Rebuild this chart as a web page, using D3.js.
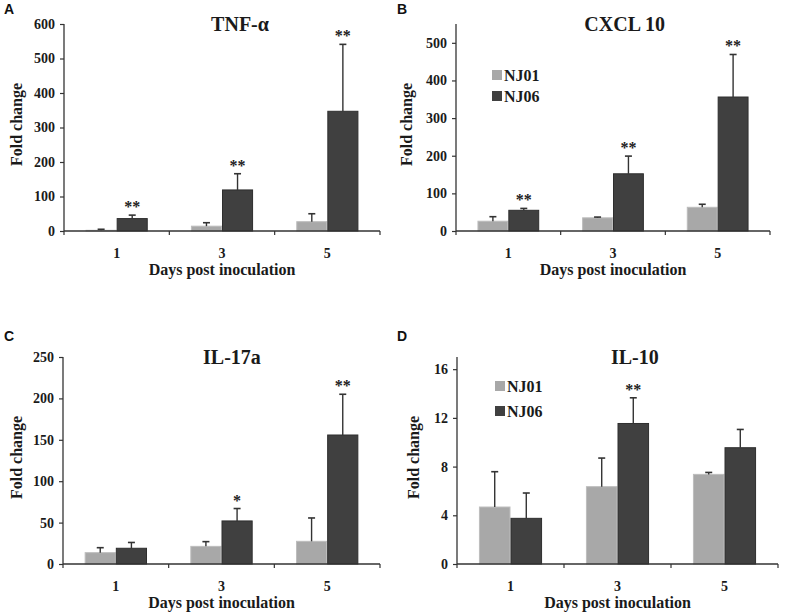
<!DOCTYPE html>
<html>
<head>
<meta charset="utf-8">
<script src="https://cdn.jsdelivr.net/npm/d3@7"></script>
<style>
  body { margin: 0; background: #fff; }
  svg { display: block; }
  .tick text { font-family: 'Liberation Serif', 'Times New Roman', serif !important; font-weight: bold; }
</style>
</head>
<body>
<svg id="chart" width="787" height="614"></svg>
<script>
// ---------- DATA ----------
const days = ["1", "3", "5"];
const seriesNames = ["NJ01", "NJ06"];

const tnfNJ01 = [2, 14, 27];
const tnfNJ01Err = [3, 10, 23];
const tnfNJ06 = [36, 119, 347];
const tnfNJ06Err = [10, 47, 194];
const tnfSig = ["**", "**", "**"];
const tnfTicks = [0, 100, 200, 300, 400, 500, 600];

const cxclNJ01 = [26, 35, 63];
const cxclNJ01Err = [12, 2, 8];
const cxclNJ06 = [55, 152, 356];
const cxclNJ06Err = [5, 47, 113];
const cxclSig = ["**", "**", "**"];
const cxclTicks = [0, 100, 200, 300, 400, 500];

const il17NJ01 = [13.7, 21.3, 27.4];
const il17NJ01Err = [6, 5.7, 28.2];
const il17NJ06 = [19, 52, 155.8];
const il17NJ06Err = [7, 15, 49.2];
const il17Sig = ["", "*", "**"];
const il17Ticks = [0, 50, 100, 150, 200, 250];

const il10NJ01 = [4.68, 6.35, 7.36];
const il10NJ01Err = [2.9, 2.35, 0.16];
const il10NJ06 = [3.75, 11.54, 9.55];
const il10NJ06Err = [2.08, 2.11, 1.5];
const il10Sig = ["", "**", ""];
const il10Ticks = [0, 4, 8, 12, 16];

// ---------- STYLE / LAYOUT ----------
const colors = ["#a8a8a8", "#404040"];
const strokes = ["#bdbdbd", "#2e2e2e"];
const serif = "'Liberation Serif', 'Times New Roman', serif";
const sans = "'Liberation Sans', Arial, sans-serif";

const panels = [
  { letter: "A", title: "TNF-α", left: 64, right: 380, top: 24, bottom: 231, max: 600,
    ticks: tnfTicks, a: tnfNJ01, ae: tnfNJ01Err, b: tnfNJ06, be: tnfNJ06Err, sig: tnfSig,
    legend: false, lx: 4, ly: 14, ylabOff: 42, titleFrac: 0.557 },
  { letter: "B", title: "CXCL 10", left: 456, right: 770, top: 24, bottom: 231, max: 550,
    ticks: cxclTicks, a: cxclNJ01, ae: cxclNJ01Err, b: cxclNJ06, be: cxclNJ06Err, sig: cxclSig,
    legend: true, legX: 36, legY: [51, 72], lx: 397, ly: 14, ylabOff: 44, titleFrac: 0.537 },
  { letter: "C", title: "IL-17a", left: 63, right: 380, top: 357, bottom: 564, max: 250,
    ticks: il17Ticks, a: il17NJ01, ae: il17NJ01Err, b: il17NJ06, be: il17NJ06Err, sig: il17Sig,
    legend: false, lx: 4, ly: 341, ylabOff: 41, titleFrac: 0.533 },
  { letter: "D", title: "IL-10", left: 457, right: 778, top: 357, bottom: 564, max: 17,
    ticks: il10Ticks, a: il10NJ01, ae: il10NJ01Err, b: il10NJ06, be: il10NJ06Err, sig: il10Sig,
    legend: true, legX: 38, legY: [29, 54], lx: 397, ly: 341, ylabOff: 38, titleFrac: 0.554 }
];

const svg = d3.select("#chart");

panels.forEach(p => {
  const g = svg.append("g");

  const y = d3.scaleLinear().domain([0, p.max]).range([p.bottom, p.top]);
  const x = d3.scaleBand().domain(days).range([p.left, p.right])
    .paddingInner(0.41).paddingOuter(0.205);
  const xs = d3.scaleBand().domain(seriesNames).range([0, x.bandwidth()]).padding(0);

  // Panel letter
  g.append("text").attr("x", p.lx).attr("y", p.ly)
    .attr("font-family", sans).attr("font-weight", "bold").attr("font-size", 14)
    .attr("fill", "#111").text(p.letter);

  // Title
  g.append("text").attr("x", p.left + p.titleFrac * (p.right - p.left)).attr("y", p.top + 7)
    .attr("text-anchor", "middle")
    .attr("font-family", serif).attr("font-weight", "bold").attr("font-size", 20)
    .attr("fill", "#1a1a1a").text(p.title);

  // Bars
  const rows = days.map((d, i) => ({ day: d, vals: [
    { s: seriesNames[0], v: p.a[i], e: p.ae[i], k: 0 },
    { s: seriesNames[1], v: p.b[i], e: p.be[i], k: 1, sig: p.sig[i] }
  ]}));

  const grp = g.selectAll("g.day").data(rows).enter().append("g")
    .attr("transform", d => `translate(${x(d.day)},0)`);

  grp.selectAll("rect").data(d => d.vals).enter().append("rect")
    .attr("x", d => xs(d.s) + 0.5)
    .attr("width", xs.bandwidth() - 1)
    .attr("y", d => y(d.v))
    .attr("height", d => p.bottom - y(d.v))
    .attr("fill", d => colors[d.k])
    .attr("stroke", d => strokes[d.k]).attr("stroke-width", 1);

  // Error bars (upper only)
  const eb = grp.selectAll("g.err").data(d => d.vals).enter().append("g");
  eb.append("line")
    .attr("x1", d => xs(d.s) + xs.bandwidth() / 2)
    .attr("x2", d => xs(d.s) + xs.bandwidth() / 2)
    .attr("y1", d => y(d.v)).attr("y2", d => y(d.v + d.e))
    .attr("stroke", "#333").attr("stroke-width", 1.4);
  eb.append("line")
    .attr("x1", d => xs(d.s) + xs.bandwidth() / 2 - 3.5)
    .attr("x2", d => xs(d.s) + xs.bandwidth() / 2 + 3.5)
    .attr("y1", d => y(d.v + d.e)).attr("y2", d => y(d.v + d.e))
    .attr("stroke", "#333").attr("stroke-width", 1.6);

  // Significance asterisks
  grp.selectAll("text.sig").data(d => d.vals.filter(v => v.sig)).enter().append("text")
    .attr("x", d => xs(d.s) + xs.bandwidth() / 2)
    .attr("y", d => y(d.v + d.e) - 3)
    .attr("text-anchor", "middle")
    .attr("font-family", serif).attr("font-weight", "bold").attr("font-size", 16)
    .attr("fill", "#222").text(d => d.sig);

  // Y axis
  const yAxis = d3.axisLeft(y).tickValues(p.ticks).tickSize(4).tickPadding(5).tickSizeOuter(0);
  const ya = g.append("g").attr("transform", `translate(${p.left},0)`).call(yAxis)
    .attr("font-family", serif).attr("font-size", 14);
  ya.select(".domain").remove();
  g.append("line").attr("x1", p.left).attr("x2", p.left).attr("y1", p.top).attr("y2", p.bottom)
    .attr("stroke", "#333").attr("stroke-width", 1.3);
  ya.selectAll(".tick line").attr("stroke", "#333").attr("stroke-width", 1.2);
  ya.selectAll(".tick text").style("font-family", serif).style("font-weight", "bold")
    .style("font-size", "14px").attr("fill", "#1a1a1a");

  // X axis
  const xAxis = d3.axisBottom(x).tickSize(0).tickPadding(17);
  const xa = g.append("g").attr("transform", `translate(0,${p.bottom})`).call(xAxis)
    .attr("font-family", serif).attr("font-size", 14);
  xa.select(".domain").remove();
  xa.selectAll(".tick text").style("font-family", serif).style("font-weight", "bold")
    .style("font-size", "14px").attr("fill", "#1a1a1a");
  g.append("line").attr("x1", p.left).attr("x2", p.right).attr("y1", p.bottom).attr("y2", p.bottom)
    .attr("stroke", "#333").attr("stroke-width", 1.3);
  const step = x.step();
  const bounds = d3.range(days.length + 1).map(i => p.left + i * step);
  g.selectAll("line.xt").data(bounds).enter().append("line")
    .attr("x1", d => d).attr("x2", d => d)
    .attr("y1", p.bottom).attr("y2", p.bottom + 4)
    .attr("stroke", "#333").attr("stroke-width", 1.2);

  // Axis labels
  g.append("text").attr("x", (p.left + p.right) / 2).attr("y", p.bottom + 44)
    .attr("text-anchor", "middle")
    .attr("font-family", serif).attr("font-weight", "bold").attr("font-size", 16)
    .attr("fill", "#1a1a1a").text("Days post inoculation");
  g.append("text")
    .attr("transform", `translate(${p.left - p.ylabOff},${(p.top + p.bottom) / 2 - 3}) rotate(-90)`)
    .attr("text-anchor", "middle")
    .attr("font-family", serif).attr("font-weight", "bold").attr("font-size", 16)
    .attr("fill", "#1a1a1a").text("Fold change");

  // Legend
  if (p.legend) {
    const lg = g.append("g").attr("transform", `translate(${p.left + p.legX},${p.top})`);
    seriesNames.forEach((s, i) => {
      lg.append("rect").attr("x", 0).attr("y", p.legY[i] - 5).attr("width", 10).attr("height", 10)
        .attr("fill", colors[i]);
      lg.append("text").attr("x", 12).attr("y", p.legY[i] + 6)
        .attr("font-family", serif).attr("font-weight", "bold").attr("font-size", 16)
        .attr("fill", "#1a1a1a").text(s);
    });
  }
});
</script>
</body>
</html>
